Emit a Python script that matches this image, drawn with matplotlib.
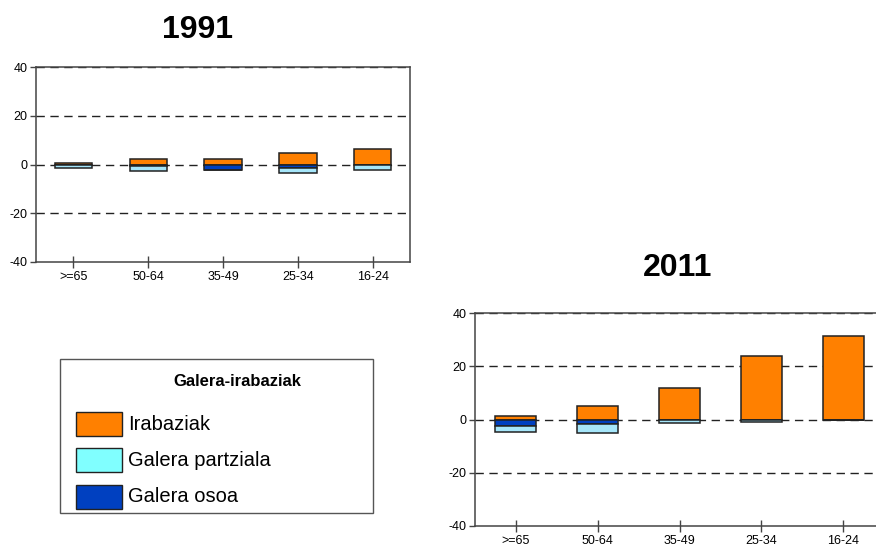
import matplotlib
matplotlib.use("Agg")
import matplotlib.pyplot as plt
from matplotlib.patches import Rectangle
import numpy as np

plt.rcParams["font.family"] = ["Liberation Sans", "DejaVu Sans"]
plt.rcParams["axes.unicode_minus"] = False

# --- data ---
groups = [">=65", "50-64", "35-49", "25-34", "16-24"]

gain_1991 = [0.7, 2.1, 2.4, 4.6, 6.5]
total_loss_1991 = [0.3, 0.5, 2.4, 1.4, 0.0]
partial_loss_1991 = [1.0, 2.0, 0.0, 1.9, 2.2]

gain_2011 = [1.4, 4.9, 11.7, 23.8, 31.3]
total_loss_2011 = [2.4, 1.6, 0.3, 0.0, 0.0]
partial_loss_2011 = [2.2, 3.3, 0.9, 0.9, 0.0]

legend_title = "Galera-irabaziak"
series_labels = ["Irabaziak", "Galera partziala", "Galera osoa"]

ORANGE = "#ff8000"
CYAN_BAR = "#a6e6fa"
CYAN_LEG = "#80ffff"
BLUE = "#0040c0"
EDGE = "#222222"
SPINE = "#444444"

W, H = 876, 549
fig = plt.figure(figsize=(W / 100, H / 100), dpi=100)


def px_axes(left, top, right, bottom):
    return fig.add_axes([left / W, 1 - bottom / H, (right - left) / W, (bottom - top) / H])


def panel(ax, gain, total, partial):
    x = np.arange(len(groups))
    tot = -np.array(total)
    ax.bar(x, gain, 0.5, color=ORANGE, edgecolor=EDGE, lw=1.1, zorder=3)
    ax.bar(x, tot, 0.5, color=BLUE, edgecolor=EDGE, lw=1.1, zorder=3)
    ax.bar(x, -np.array(partial), 0.5, bottom=tot, color=CYAN_BAR,
           edgecolor=EDGE, lw=1.1, zorder=3)
    for y in (20, 0, -20, 40):
        ax.axhline(y, color="#222222", lw=1.0, ls=(0, (6, 4)), zorder=1)
    ax.set_xlim(-0.5, len(groups) - 0.5)
    ax.set_ylim(-40, 40)
    ax.set_yticks([-40, -20, 0, 20, 40])
    ax.set_xticks(x)
    ax.set_xticklabels(groups)
    ax.tick_params(axis="x", direction="inout", length=9, width=1, color=SPINE,
                   labelsize=9, pad=2)
    ax.tick_params(axis="y", direction="out", length=4, width=1, color=SPINE,
                   labelsize=9, pad=2)
    for s in ax.spines.values():
        s.set_color(SPINE)
        s.set_linewidth(1.1)


ax1 = px_axes(36, 67, 410, 262)
panel(ax1, gain_1991, total_loss_1991, partial_loss_1991)
ax2 = px_axes(475, 313, 884, 526)
panel(ax2, gain_2011, total_loss_2011, partial_loss_2011)

fig.text(198 / W, 1 - 30 / H, "1991", ha="center", va="center",
         fontsize=23, fontweight="bold")
fig.text(678 / W, 1 - 268 / H, "2011", ha="center", va="center",
         fontsize=23, fontweight="bold")

# legend box drawn in figure pixels
tf = fig.transFigure
fig.add_artist(Rectangle((60 / W, 1 - 513 / H), 313 / W, 154 / H, transform=tf,
                         fill=False, ec="#555555", lw=1.0))
fig.text(237 / W, 1 - 382 / H, legend_title, ha="center", va="center",
         fontsize=12, fontweight="bold")
swatch_cols = [ORANGE, CYAN_LEG, BLUE]
swatch_tops = [412, 448, 485]
for lab, col, top in zip(series_labels, swatch_cols, swatch_tops):
    fig.add_artist(Rectangle((76 / W, 1 - (top + 24) / H), 46 / W, 24 / H,
                             transform=tf, fc=col, ec=EDGE, lw=1.0))
    fig.text(128 / W, 1 - (top + 12) / H, lab, ha="left", va="center",
             fontsize=14.5)

fig.savefig("out.png", dpi=100)
